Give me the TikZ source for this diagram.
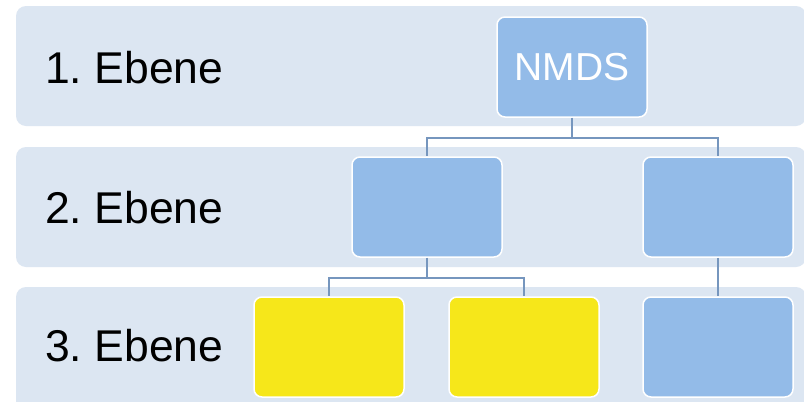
\documentclass[tikz,border=0pt]{standalone}
\usepackage{fontspec}
\setmainfont{Liberation Sans}
\definecolor{bandc}{HTML}{DCE6F2}
\definecolor{boxc}{HTML}{93BBE8}
\definecolor{yelc}{HTML}{F6E71A}
\definecolor{linec}{HTML}{7696BE}
\begin{document}
\frenchspacing
\begin{tikzpicture}[x=1pt,y=-1pt,
  band/.style={fill=bandc, draw=none, rounded corners=10pt},
  orgbox/.style={draw=white, line width=1.5pt, rounded corners=8pt, minimum width=150pt, minimum height=100pt, inner sep=0pt, font=\fontsize{39}{44}\selectfont, text=white},
  bluebox/.style={orgbox, fill=boxc},
  yelbox/.style={orgbox, fill=yelc},
  lbl/.style={anchor=west, font=\fontsize{44.5}{50}\selectfont, text=black, inner sep=0pt},
  conn/.style={draw=linec, line width=2.2pt}]
\useasboundingbox (0,0) rectangle (804,402);
\clip (0,0) rectangle (804,402);
\fill[white] (0,0) rectangle (804,402);
\path[band] (16,6) rectangle (806,126);
\path[band] (16,147) rectangle (806,267);
\path[band] (16,287) rectangle (806,420);
\node[lbl] (l1) at (45,68) {1. Ebene};
\node[lbl] (l2) at (45,208) {2. Ebene};
\node[lbl] (l3) at (45,346) {3. Ebene};
\node[bluebox] (n) at (572,67) {NMDS};
\node[bluebox] (a) at (427,207) {};
\node[bluebox] (b) at (718,207) {};
\node[yelbox] (c) at (329,347) {};
\node[yelbox] (d) at (524,347) {};
\node[bluebox] (e) at (718,347) {};
\draw[conn] (n.south) -- ++(0,20) -| (a.north);
\draw[conn] (n.south) -- ++(0,20) -| (b.north);
\draw[conn] (a.south) -- ++(0,20) -| (c.north);
\draw[conn] (a.south) -- ++(0,20) -| (d.north);
\draw[conn] (b.south) -- (e.north);
\end{tikzpicture}
\end{document}
